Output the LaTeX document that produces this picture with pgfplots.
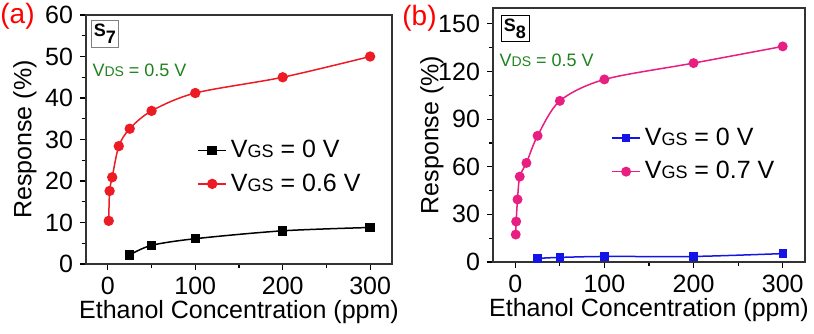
\documentclass[border=0pt]{standalone}
\usepackage{fontspec}
\setmainfont{Liberation Sans}
\usepackage{pgfplots}
\pgfplotsset{compat=1.18}
\definecolor{myred}{RGB}{237,28,36}
\definecolor{mypink}{RGB}{232,30,128}
\definecolor{myblue}{RGB}{20,20,230}
\definecolor{mygreen}{RGB}{30,130,30}
\newcommand{\sm}[1]{{\fontsize{9}{9}\selectfont #1}}
\newcommand{\smg}[1]{{\fontsize{7}{7}\selectfont #1}}

\pgfplotsset{
 myaxis/.style={
  scale only axis,
  xmin=-25, xmax=325, ymin=0,
  xtick={0,100,200,300}, minor xtick={50,150,250},
  tick align=outside, major tick length=3pt, minor tick length=2pt,
  xtick pos=left, ytick pos=left,
  tick style={black, line width=0.6pt},
  axis line style={black!80, line width=0.6pt},
  /pgf/number format/assume math mode=true,
  tick label style={font=\fontsize{12.5}{12.5}\selectfont},
  every axis x label/.style={at={(rel axis cs:0.5,0)}, anchor=base, yshift=-27pt, font=\fontsize{12.5}{13}\selectfont},
  every axis y label/.style={at={(rel axis cs:0,0.5)}, xshift=-30.5pt, rotate=90, anchor=center, font=\fontsize{12.5}{13}\selectfont},
  xlabel={Ethanol Concentration (ppm)},
  ylabel={Response (\%)},
  legend style={draw=none, fill=none, inner sep=0pt, font=\fontsize{12.5}{12.5}\selectfont, row sep=2.5pt, cells={anchor=west}},
  legend image code/.code={\draw[mark repeat=2,mark phase=2] plot coordinates {(0pt,0pt) (7pt,0pt) (14pt,0pt)};},
  clip=false,
 }
}

\begin{document}
\begin{tikzpicture}
% ---------- panel (a)
\begin{axis}[myaxis,
  at={(0pt,0pt)}, anchor=south west,
  width=153pt, height=124.5pt,
  ymax=60, ytick={0,10,...,60}, minor ytick={5,15,...,55},
  legend style={at={(rel axis cs:0.363,0.515)}, anchor=north west},
]
\addplot[black, line width=0.75pt, smooth, mark=square*, mark size=2pt] coordinates {
 (25,2.2) (50,4.5) (100,6.1) (200,8.0) (300,8.8)};
\addlegendentry{V\sm{GS} = 0 V}
\addplot[myred, line width=0.75pt, smooth, tension=0.5, mark=*, mark size=2.2pt] coordinates {
 (1,10.4) (2,17.6) (5,20.9) (12.5,28.4) (25,32.6) (50,36.9) (100,41.2) (200,45.0) (300,50.0)};
\addlegendentry{V\sm{GS} = 0.6 V}
\node[draw=gray, fill=white, inner sep=1.2pt, minimum width=13pt, minimum height=13.5pt]
  at (rel axis cs:0.062,0.926) {\fontsize{9}{9}\selectfont\bfseries S\raisebox{-3.5pt}{7}};
\node[anchor=west, text=mygreen, inner sep=0pt, font=\fontsize{9}{9}\selectfont]
  at (rel axis cs:0.02,0.779) {V\smg{DS} = 0.5 V};
\end{axis}
\node[anchor=base west, text=red, inner sep=0pt, font=\fontsize{14}{14}\selectfont] at (-43pt,120.5pt) {(a)};
% ---------- panel (b)
\begin{axis}[myaxis,
  at={(203.5pt,1pt)}, anchor=south west,
  width=156pt, height=127pt,
  ymax=160, ytick={0,30,...,150}, minor ytick={15,45,...,135},
  legend style={at={(rel axis cs:0.378,0.545)}, anchor=north west},
]
\addplot[myblue, line width=0.75pt, smooth, mark=square*, mark size=1.7pt] coordinates {
 (25,2.3) (50,2.9) (100,3.5) (200,3.5) (300,5.3)};
\addlegendentry{V\sm{GS} = 0 V}
\addplot[mypink, line width=0.75pt, smooth, tension=0.5, mark=*, mark size=2.1pt] coordinates {
 (0.5,17.3) (1,25.5) (2.5,39.4) (5,53.8) (12.5,62.4) (25,79.5) (50,101.5) (100,115) (200,125.3) (300,135.8)};
\addlegendentry{V\sm{GS} = 0.7 V}
\node[draw=black, fill=white, inner sep=1.2pt, minimum width=14pt, minimum height=13pt]
  at (rel axis cs:0.0705,0.918) {\fontsize{9}{9}\selectfont\bfseries S\raisebox{-3.5pt}{8}};
\node[anchor=west, text=mygreen, inner sep=0pt, font=\fontsize{9}{9}\selectfont]
  at (rel axis cs:0.02,0.795) {V\smg{DS} = 0.5 V};
\end{axis}
\node[anchor=base west, text=red, inner sep=0pt, font=\fontsize{14}{14}\selectfont] at (158pt,119.5pt) {(b)};
\pgfresetboundingbox
\path (-43pt,-34.5pt) rectangle (364pt,132pt);
\end{tikzpicture}
\end{document}
